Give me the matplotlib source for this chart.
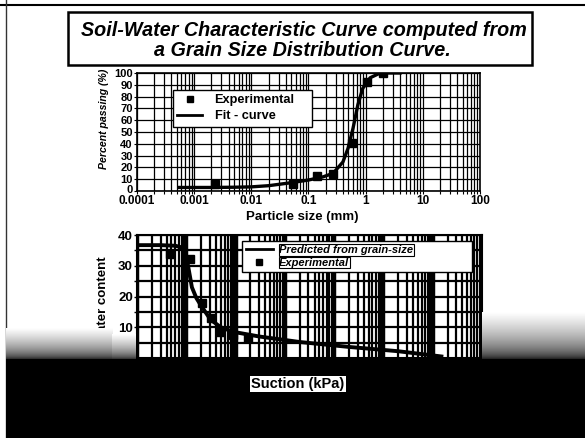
import matplotlib
matplotlib.use('Agg')
import matplotlib.pyplot as plt
import numpy as np
from matplotlib.patches import Rectangle
from matplotlib.lines import Line2D
from matplotlib.ticker import LogLocator, NullFormatter, FixedLocator
from matplotlib.transforms import ScaledTranslation

plt.rcParams['font.family'] = ['Liberation Sans', 'DejaVu Sans']

# ---------------- data ----------------
gsd_exp_size = [0.0023, 0.053, 0.14, 0.27, 0.57, 1.05, 2.0]
gsd_exp_pass = [6, 6, 12.5, 14.5, 41, 92, 100]
gsd_fit_size = [0.00055, 0.001, 0.002, 0.005, 0.01, 0.02, 0.046, 0.1, 0.18,
                0.27, 0.4, 0.49, 0.6, 0.73, 0.89, 1.2, 1.8, 4.0]
gsd_fit_pass = [3, 3, 3, 3.2, 3.5, 4.5, 6.8, 9.3, 12, 15, 24.6, 36, 53, 73,
                87, 96, 100, 100]
size_ticks = [1e-4, 1e-3, 1e-2, 1e-1, 1, 10, 100]
size_tick_labels = ['0.0001', '0.001', '0.01', '0.1', '1', '10', '100']

swcc_pred_suction = [1, 3, 6, 8, 10, 11, 13, 16, 20, 31, 50, 90, 300, 2000,
                     2e4, 2e5, 1.5e6]
swcc_pred_w = [36.7, 36.7, 36.5, 36, 33, 29.5, 23, 19.5, 17, 12.5, 10, 8.5,
               7, 5.2, 3.6, 2.2, 0.5]
swcc_exp_suction = [4.7, 12, 21, 31, 49, 87, 175]
swcc_exp_w = [33.8, 32.2, 17.9, 13, 8.5, 7.5, 6.5]
w_ticks = [10, 20, 30, 40]

W, H = 585, 438
fig = plt.figure(figsize=(5.85, 4.38), dpi=100)
fig.patch.set_facecolor('white')


def fx(px):
    return px / W


def fy(py):
    return 1 - py / H


# ---------------- title box ----------------
fig.add_artist(Rectangle((fx(68), fy(65)), fx(532) - fx(68), fy(12) - fy(65),
                         transform=fig.transFigure, facecolor='white',
                         edgecolor='black', lw=1.8, zorder=3))
fig.text(fx(304), fy(31), 'Soil-Water Characteristic Curve computed from',
         ha='center', va='center', fontsize=14.2, fontweight='bold',
         fontstyle='italic', zorder=4)
fig.text(fx(302), fy(50), 'a Grain Size Distribution Curve.',
         ha='center', va='center', fontsize=14.2, fontweight='bold',
         fontstyle='italic', zorder=4)

# slide borders
fig.add_artist(Line2D([0, 1], [fy(5), fy(5)], transform=fig.transFigure,
                      color='black', lw=1.5, zorder=3))
fig.add_artist(Line2D([fx(6), fx(6)], [0, 1], transform=fig.transFigure,
                      color='#333333', lw=1.0, zorder=3))

# ---------------- top plot ----------------
ax1 = fig.add_axes([fx(137), fy(191), fx(480) - fx(137), fy(73) - fy(191)])
ax1.set_xscale('log')
ax1.set_xlim(1e-4, 100)
ax1.set_ylim(0, 100)
ax1.xaxis.set_major_locator(FixedLocator(size_ticks))
ax1.set_xticklabels(size_tick_labels)
ax1.xaxis.set_minor_locator(LogLocator(base=10, subs=range(2, 10), numticks=20))
ax1.xaxis.set_minor_formatter(NullFormatter())
ax1.set_yticks(range(0, 101, 10))
ax1.grid(True, which='both', color='black', lw=0.9)
ax1.set_axisbelow(True)
for s in ax1.spines.values():
    s.set_color('black')
    s.set_linewidth(1.2)
ax1.tick_params(which='both', direction='out', length=2, width=0.8, pad=1)
ax1.tick_params(axis='x', labelsize=8.5)
ax1.tick_params(axis='y', labelsize=8)
for lab in ax1.get_xticklabels() + ax1.get_yticklabels():
    lab.set_fontweight('bold')
# lift the "0" label slightly, as in the reference
zero_lab = ax1.get_yticklabels()[0]
zero_lab.set_transform(zero_lab.get_transform() +
                       ScaledTranslation(0, 1.5 / 72, fig.dpi_scale_trans))
ax1.plot(gsd_fit_size, gsd_fit_pass, color='black', lw=2.4, zorder=3)
ax1.plot(gsd_exp_size, gsd_exp_pass, ls='none', marker='s', ms=6,
         color='black', zorder=4)
ax1.set_ylabel('Percent passing (%)', fontsize=7.6, fontweight='bold',
               fontstyle='italic')
ax1.yaxis.set_label_coords(-(137 - 109) / 343, (191 - 119) / 118)
ax1.set_xlabel('Particle size (mm)', fontsize=9.5, fontweight='bold')
ax1.xaxis.set_label_coords((302 - 137) / 343, -(211 - 191) / 118)

h1 = [Line2D([], [], ls='none', marker='s', ms=5, color='black'),
      Line2D([], [], color='black', lw=2)]
leg1 = ax1.legend(h1, ['Experimental', 'Fit - curve'], loc='upper left',
                  bbox_to_anchor=((173 - 137) / 343, 0, (312 - 173) / 343,
                                  (191 - 90) / 118),
                  mode='expand', borderaxespad=0, fancybox=False,
                  framealpha=1, edgecolor='black', handlelength=1.9,
                  handletextpad=1.0, labelspacing=0.3, borderpad=0.35,
                  prop={'weight': 'bold', 'size': 9.2})
leg1.get_frame().set_linewidth(1.0)

# ---------------- bottom plot ----------------
ax2 = fig.add_axes([fx(137), fy(358), fx(482) - fx(137), fy(235) - fy(358)])
ax2.set_xscale('log')
ax2.set_xlim(1, 1e7)
ax2.set_ylim(0, 40)
ax2.xaxis.set_major_locator(LogLocator(base=10, numticks=20))
ax2.xaxis.set_minor_locator(LogLocator(base=10, subs=range(2, 10), numticks=20))
ax2.xaxis.set_minor_formatter(NullFormatter())
ax2.set_xticklabels([])
ax2.set_yticks(w_ticks)
ax2.yaxis.set_minor_locator(FixedLocator([5, 15, 25, 35]))
ax2.grid(True, axis='x', which='major', color='black', lw=3.2)
ax2.grid(True, axis='x', which='minor', color='black', lw=1.6)
ax2.grid(True, axis='y', which='both', color='black', lw=1.6)
ax2.set_axisbelow(True)
for s in ax2.spines.values():
    s.set_color('black')
    s.set_linewidth(1.5)
ax2.tick_params(which='both', direction='out', length=2, width=1,
                labelsize=9.5, pad=1)
for lab in ax2.get_yticklabels():
    lab.set_fontweight('bold')
ax2.plot(swcc_pred_suction, swcc_pred_w, color='black', lw=2.8, zorder=3)
ax2.plot(swcc_exp_suction, swcc_exp_w, ls='none', marker='s', ms=5.5,
         color='black', zorder=4)
ax2.set_ylabel('Water content', fontsize=9.5, fontweight='bold')
ax2.yaxis.set_label_coords(-(137 - 109) / 345, (358 - 300) / 123)

h2 = [Line2D([], [], color='black', lw=2),
      Line2D([], [], ls='none', marker='s', ms=5, color='black')]
leg2 = ax2.legend(h2, ['Predicted from grain-size', 'Experimental'],
                  loc='upper left',
                  bbox_to_anchor=((242 - 137) / 345, 0, (472 - 242) / 345,
                                  (358 - 241) / 123),
                  mode='expand', borderaxespad=0, fancybox=False,
                  framealpha=1, edgecolor='black', handlelength=2.4,
                  handletextpad=0.6, labelspacing=0.25, borderpad=0.35,
                  prop={'weight': 'bold', 'style': 'italic', 'size': 8})
leg2.get_frame().set_linewidth(1.0)
leg2.set_zorder(6)
for t in leg2.get_texts():
    t.set_bbox(dict(facecolor='white', edgecolor='black', pad=0.5, lw=0.8))

# ---------------- scanned dark band ----------------
grad = np.linspace(1.0, 0.0, 60)[:, None]
for (x0, x1, y0, y1) in [(6, 112, 328, 360), (112, 136, 334, 360),
                         (482, 585, 312, 360)]:
    axg = fig.add_axes([fx(x0), fy(y1), fx(x1) - fx(x0), fy(y0) - fy(y1)],
                       zorder=4)
    axg.imshow(grad ** 0.5, cmap='gray', vmin=0, vmax=1, aspect='auto',
               interpolation='bilinear')
    axg.axis('off')

fig.add_artist(Rectangle((fx(6), 0), 1 - fx(6), fy(359),
                         transform=fig.transFigure, facecolor='black',
                         edgecolor='none', zorder=5))
fig.text(fx(298), fy(384), 'Suction (kPa)', ha='center', va='center',
         fontsize=10.5, fontweight='bold', zorder=7,
         bbox=dict(facecolor='white', edgecolor='none', pad=1))

fig.savefig('out.png', dpi=100, facecolor='white')
